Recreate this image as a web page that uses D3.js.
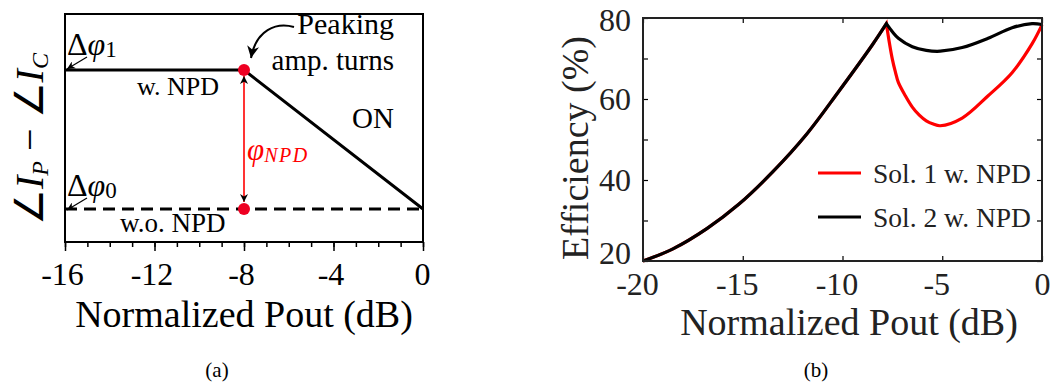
<!DOCTYPE html>
<html>
<head>
<meta charset="utf-8">
<script src="https://cdn.jsdelivr.net/npm/d3@7"></script>
<style>
  body { margin: 0; background: #fff; }
  svg { display: block; }
  svg text { font-family: "Liberation Serif", "Times New Roman", serif; }
</style>
</head>
<body>
<svg id="chart" width="1050" height="383"></svg>
<script>
// ---- panel (a): phase difference vs normalized pout ----
var phaseX = [-16, -8, 0];          // dB, w. NPD corner points
var phaseWithNPD = [1, 1, 0];       // normalized: 1 = dphi1, 0 = dphi0
var phaseNoX = [-16, 0];
var phaseWithoutNPD = [0, 0];
var peakOnX = -8;                   // peaking amp turns on
var ticksA = [-16, -12, -8, -4, 0];

// ---- panel (b): efficiency vs normalized pout ----
var riseX = [-20, -18.5, -16.8, -15.2, -13.5, -11.8, -10.2, -8.5, -7.8];
var riseEff = [20, 23.0, 28.0, 34.0, 42.0, 51.3, 61.8, 73.4, 78.6];
var fallX1 = [-7.8, -7.65, -7.5, -7.35, -7.2, -6.85, -6.5, -6.15, -5.8, -5.45, -5.1, -4.0, -2.7, -1.5, -0.5, 0];
var sol1Eff = [78.6, 73.9, 69.8, 66.7, 64.1, 60.8, 58.0, 56.0, 54.6, 53.8, 53.4, 55.3, 60.8, 66.5, 73.6, 78.3];
var fallX2 = [-7.8, -7.5, -7.2, -6.5, -5.8, -5.1, -4.0, -2.7, -1.5, -0.5, 0];
var sol2Eff = [78.6, 76.6, 75.0, 72.9, 72.0, 71.8, 72.7, 75.0, 77.6, 78.6, 78.4];
var ticksBx = [-20, -15, -10, -5, 0];
var ticksBy = [20, 30, 40, 50, 60, 70, 80];
var seriesNames = ["Sol. 1 w. NPD", "Sol. 2 w. NPD"];
var seriesColors = ["#ff0000", "#000000"];

var svg = d3.select("#chart");
var fmt = function (d) { return String(d); };

// arrowhead markers
var defs = svg.append("defs");
defs.append("marker")
  .attr("id", "ah")
  .attr("viewBox", "0 0 10 10")
  .attr("refX", 10).attr("refY", 5)
  .attr("markerWidth", 9).attr("markerHeight", 8)
  .attr("markerUnits", "userSpaceOnUse")
  .attr("orient", "auto-start-reverse")
  .append("path")
  .attr("d", "M0,0 L10,5 L0,10 L3,5 Z")
  .attr("fill", "#000");
defs.append("marker")
  .attr("id", "ahBig")
  .attr("viewBox", "0 0 10 10")
  .attr("refX", 10).attr("refY", 5)
  .attr("markerWidth", 14).attr("markerHeight", 12)
  .attr("markerUnits", "userSpaceOnUse")
  .attr("orient", "auto")
  .append("path")
  .attr("d", "M0,0 L10,5 L0,10 L3,5 Z")
  .attr("fill", "#000");

/* ================= panel (a) ================= */
var xa = d3.scaleLinear().domain([-16, 0]).range([65, 423]);
var ya = d3.scaleLinear().domain([-0.237, 1.403]).range([242, 14]);

var ga = svg.append("g");

// minor ticks
ga.append("g")
  .attr("transform", "translate(0,242)")
  .call(d3.axisBottom(xa).tickValues(d3.range(-16, 1, 1)).tickSize(5).tickFormat(""))
  .call(function (g) { g.select(".domain").remove(); })
  .selectAll("line").attr("stroke", "#000").attr("stroke-width", 1.5);

// major ticks + labels
var axA = ga.append("g")
  .attr("transform", "translate(0,242)")
  .call(d3.axisBottom(xa).tickValues(ticksA).tickSize(9).tickPadding(11).tickFormat(fmt));
axA.select(".domain").remove();
axA.selectAll("line").attr("stroke", "#000").attr("stroke-width", 1.5);
axA.selectAll("text")
  .attr("font-size", 32)
  .attr("fill", "#000")
  .attr("dx", function (d) { return d < 0 ? -3 : -1; });

ga.append("rect")
  .attr("x", xa(-16)).attr("y", ya(1.403))
  .attr("width", xa(0) - xa(-16)).attr("height", ya(-0.237) - ya(1.403))
  .attr("fill", "none").attr("stroke", "#000").attr("stroke-width", 2);

var lineA = d3.line().x(function (d) { return xa(d[0]); }).y(function (d) { return ya(d[1]); });

ga.append("path")
  .attr("d", lineA(d3.zip(phaseNoX, phaseWithoutNPD)))
  .attr("fill", "none").attr("stroke", "#000").attr("stroke-width", 3)
  .attr("stroke-dasharray", "12,7");

ga.append("path")
  .attr("d", lineA(d3.zip(phaseX, phaseWithNPD)))
  .attr("fill", "none").attr("stroke", "#000").attr("stroke-width", 3);

// phi_NPD double arrow
ga.append("line")
  .attr("x1", xa(peakOnX)).attr("x2", xa(peakOnX))
  .attr("y1", ya(1) + 6).attr("y2", ya(0) - 7)
  .attr("stroke", "#ff0000").attr("stroke-width", 1.6)
  .attr("marker-start", "url(#ah)").attr("marker-end", "url(#ah)");

ga.selectAll("circle.pt")
  .data([1, 0])
  .enter().append("circle")
  .attr("class", "pt")
  .attr("cx", xa(peakOnX)).attr("cy", function (d) { return ya(d); })
  .attr("r", 6).attr("fill", "#ee0022");

// labels
function phiLabel(x, y, sub) {
  var t = ga.append("text").attr("x", x).attr("y", y).attr("font-size", 32).attr("fill", "#000");
  t.append("tspan").text("Δ");
  t.append("tspan").attr("font-style", "italic").text("φ");
  t.append("tspan").attr("font-size", 23).attr("dy", 2).text(sub);
}
phiLabel(67, 55, "1");
phiLabel(67, 196, "0");

ga.append("line")
  .attr("x1", 87).attr("y1", 57).attr("x2", 67).attr("y2", 69)
  .attr("stroke", "#000").attr("stroke-width", 1.2).attr("marker-end", "url(#ah)");
ga.append("line")
  .attr("x1", 87).attr("y1", 198).attr("x2", 67).attr("y2", 210)
  .attr("stroke", "#000").attr("stroke-width", 1.2).attr("marker-end", "url(#ah)");

ga.append("text").attr("x", 137).attr("y", 95).attr("font-size", 26).text("w. NPD");
ga.append("text").attr("x", 120).attr("y", 232).attr("font-size", 27).text("w.o. NPD");

ga.append("text").attr("x", 394).attr("y", 34).attr("font-size", 30).attr("text-anchor", "end").text("Peaking");
ga.append("text").attr("x", 394).attr("y", 70).attr("font-size", 29).attr("text-anchor", "end").text("amp. turns");
ga.append("text").attr("x", 394).attr("y", 128).attr("font-size", 29).attr("text-anchor", "end").text("ON");

ga.append("path")
  .attr("d", "M294,27 C276,22 256,30 251,58")
  .attr("fill", "none").attr("stroke", "#000").attr("stroke-width", 2)
  .attr("marker-end", "url(#ahBig)");

var phiN = ga.append("text").attr("x", 247).attr("y", 160).attr("fill", "#ff0000").attr("font-size", 31);
phiN.append("tspan").attr("font-style", "italic").text("φ");
phiN.append("tspan").attr("font-style", "italic").attr("font-size", 20).attr("dy", 2)
  .attr("letter-spacing", 1.5).text("NPD");

// y label (rotated)
var yl = ga.append("text")
  .attr("transform", "translate(43,139) rotate(-90)")
  .attr("text-anchor", "middle").attr("font-size", 40);
yl.append("tspan").text("∠");
yl.append("tspan").attr("font-style", "italic").text("I");
yl.append("tspan").attr("font-style", "italic").attr("font-size", 24).attr("dy", 5).text("P");
yl.append("tspan").attr("dy", -5).text(" − ∠");
yl.append("tspan").attr("font-style", "italic").text("I");
yl.append("tspan").attr("font-style", "italic").attr("font-size", 24).attr("dy", 5).text("C");

ga.append("text").attr("x", 244).attr("y", 327).attr("text-anchor", "middle")
  .attr("font-size", 38).text("Normalized Pout (dB)");
ga.append("text").attr("x", 217).attr("y", 377).attr("text-anchor", "middle")
  .attr("font-size", 21).text("(a)");

/* ================= panel (b) ================= */
var xb = d3.scaleLinear().domain([-20, 0]).range([643, 1042]);
var yb = d3.scaleLinear().domain([20, 80]).range([261, 18]);

var gb = svg.append("g");

function styleAxis(g) {
  g.select(".domain").remove();
  g.selectAll("line").attr("stroke", "#000").attr("stroke-width", 1.2);
  g.selectAll("text").attr("font-size", 32).attr("fill", "#222");
}

gb.append("g").attr("transform", "translate(0,261)")
  .call(d3.axisBottom(xb).tickValues(ticksBx).tickSizeInner(-5).tickSizeOuter(0).tickPadding(11).tickFormat(fmt))
  .call(styleAxis)
  .selectAll("text").attr("dx", function (d) { return d < 0 ? -6 : 0; });
gb.append("g").attr("transform", "translate(0,18)")
  .call(d3.axisTop(xb).tickValues(ticksBx).tickSizeInner(-5).tickSizeOuter(0).tickFormat(""))
  .call(styleAxis);
gb.append("g").attr("transform", "translate(643,0)")
  .call(d3.axisLeft(yb).tickValues(ticksBy).tickSizeInner(-5).tickSizeOuter(0).tickPadding(12)
    .tickFormat(function (d) { return d % 20 === 0 ? String(d) : ""; }))
  .call(styleAxis)
  .selectAll("text").attr("y", function (d) { return d === 20 ? -8 : (d === 80 ? 2 : 0); });
gb.append("g").attr("transform", "translate(1042,0)")
  .call(d3.axisRight(yb).tickValues(ticksBy).tickSizeInner(-5).tickSizeOuter(0).tickFormat(""))
  .call(styleAxis);

var lineB = d3.line()
  .x(function (d) { return xb(d[0]); })
  .y(function (d) { return yb(d[1]); })
  .curve(d3.curveCatmullRom.alpha(0.5));

var rise = d3.zip(riseX, riseEff);
[[fallX1, sol1Eff], [fallX2, sol2Eff]].forEach(function (s, i) {
  gb.append("path")
    .attr("d", lineB(rise) + lineB(d3.zip(s[0], s[1])).replace(/^M/, "L"))
    .attr("fill", "none")
    .attr("stroke", seriesColors[i])
    .attr("stroke-width", 3.2)
    .attr("stroke-linejoin", "miter");
});

gb.append("rect")
  .attr("x", 643).attr("y", 18).attr("width", 1042 - 643).attr("height", 261 - 18)
  .attr("fill", "none").attr("stroke", "#222").attr("stroke-width", 2);

// legend
var leg = gb.selectAll("g.leg")
  .data(seriesNames)
  .enter().append("g")
  .attr("class", "leg")
  .attr("transform", function (d, i) { return "translate(818," + (173 + i * 44) + ")"; });
leg.append("line")
  .attr("x1", 0).attr("x2", 43).attr("y1", 0).attr("y2", 0)
  .attr("stroke", function (d, i) { return seriesColors[i]; }).attr("stroke-width", 3);
leg.append("text")
  .attr("x", 55).attr("y", 10)
  .attr("font-size", 27.5).attr("fill", "#222")
  .text(function (d) { return d; });

// y label
gb.append("text")
  .attr("transform", "translate(588,148) rotate(-90)")
  .attr("text-anchor", "middle").attr("font-size", 38).attr("fill", "#222")
  .text("Efficiency (%)");

gb.append("text").attr("x", 849).attr("y", 335).attr("text-anchor", "middle")
  .attr("font-size", 38).attr("fill", "#222").text("Normalized Pout (dB)");
gb.append("text").attr("x", 816).attr("y", 377).attr("text-anchor", "middle")
  .attr("font-size", 21).text("(b)");
</script>
</body>
</html>
